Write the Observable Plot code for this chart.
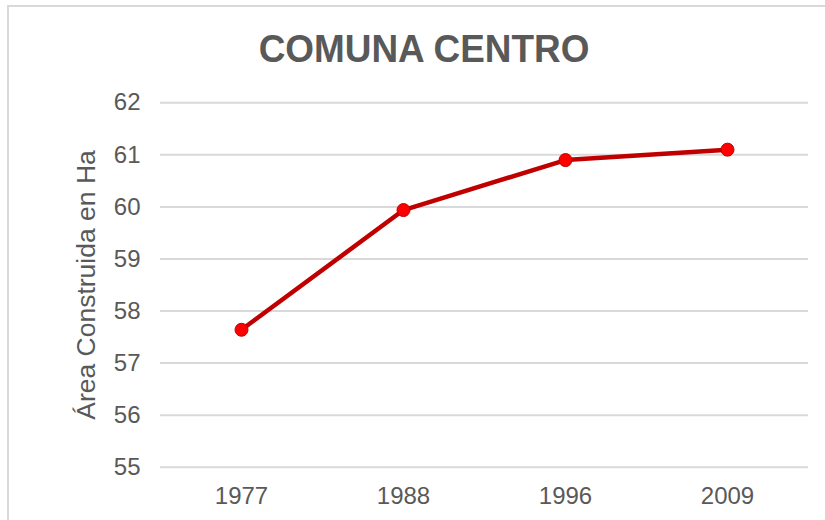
<!DOCTYPE html>
<html>
<head>
<meta charset="utf-8">
<script src="https://cdn.jsdelivr.net/npm/d3@7"></script>
<script src="https://cdn.jsdelivr.net/npm/@observablehq/plot@0.6"></script>
<style>
  html, body { margin: 0; padding: 0; background: #fff; }
  #wrap { position: relative; width: 825px; height: 520px; overflow: hidden; font-family: "Liberation Sans", Arial, sans-serif; }
  #frame { position: absolute; left: 7px; top: 5px; width: 900px; height: 600px; border: 2px solid #d9d9d9; box-sizing: border-box; }
  #title { position: absolute; left: 424px; top: 29px; transform: translateX(-50%) scaleX(0.946); font-size: 39px; line-height: 39px; font-weight: bold; color: #595959; white-space: nowrap; }
  #chart { position: absolute; left: 0; top: 0; }
</style>
</head>
<body>
<div id="wrap">
  <div id="frame"></div>
  <div id="title">COMUNA CENTRO</div>
  <div id="chart"></div>
</div>
<script>
const years = ["1977", "1988", "1996", "2009"];
const values = [57.64, 59.94, 60.9, 61.1];
const yTicks = [55, 56, 57, 58, 59, 60, 61, 62];
const yLabel = "Área Construida en Ha";

const data = years.map((y, i) => ({year: y, value: values[i]}));

const chart = Plot.plot({
  width: 825,
  height: 520,
  marginTop: 102.3,
  marginBottom: 53.3,
  marginLeft: 160,
  marginRight: 17,
  style: {fontFamily: "'Liberation Sans', Arial, sans-serif", fontSize: "24px", color: "#595959", background: "transparent", overflow: "visible"},
  x: {type: "point", domain: years, padding: 0.5},
  y: {domain: [55, 62]},
  marks: [
    Plot.gridY(yTicks, {stroke: "#d9d9d9", strokeOpacity: 1, strokeWidth: 2}),
    Plot.axisY(yTicks, {tickSize: 0, tickPadding: 20, tickFormat: d3.format("d"), label: null, fontSize: 24, fill: "#595959"}),
    Plot.axisX(years, {tickSize: 0, tickPadding: 20, label: null, fontSize: 24, fill: "#595959"}),
    Plot.text([yLabel], {frameAnchor: "left", dx: -74, rotate: -90, text: d => d, fontSize: 26.5, fill: "#595959", textAnchor: "middle", lineAnchor: "middle"}),
    Plot.line(data, {x: "year", y: "value", stroke: "#c00000", strokeWidth: 4.5}),
    Plot.dot(data, {x: "year", y: "value", r: 6.5, fill: "#ff0000", stroke: "#c00000", strokeWidth: 1})
  ]
});
document.getElementById("chart").appendChild(chart);
</script>
</body>
</html>
